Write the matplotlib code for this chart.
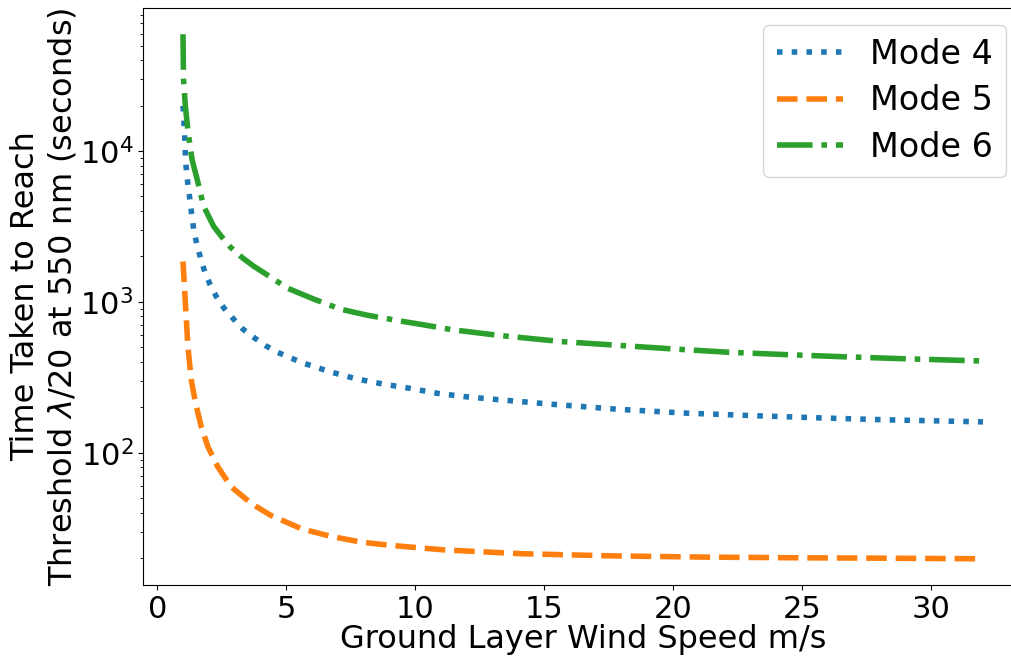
import matplotlib
matplotlib.use("Agg")
import matplotlib.pyplot as plt

# values
wind_mode4 = [1.0, 1.06, 1.1, 1.15, 1.22, 1.28, 1.35, 1.42, 1.54, 1.68, 1.84, 2.05, 2.29, 2.59,
              2.94, 3.32, 3.75, 4.19, 4.66, 5.14, 5.65, 6.17, 6.69, 7.73, 8.76, 9.79, 10.89,
              11.93, 13.04, 15.2, 17.83, 20.45, 23.08, 25.7, 28.33, 32.0]
time_mode4 = [19900, 13200, 8790, 6810, 5550, 4530, 3660, 2970, 2390, 1950, 1590, 1300, 1084, 908,
              775, 659, 580, 513, 463, 427, 393, 368, 344, 308, 285, 267, 247,
              235, 226, 210, 194, 183, 176, 170, 165, 160]

wind_mode5 = [1.0, 1.1, 1.19, 1.32, 1.49, 1.71, 1.97, 2.35, 2.87, 3.65, 4.39, 5.59, 6.72, 7.92,
              9.04, 11.08, 14.06, 17.6, 21.3, 25.0, 28.7, 32.0]
time_mode5 = [1850, 931, 505, 303, 212, 148, 109, 80.5, 59.3, 46, 38.5, 31.3, 27.9, 25.5,
              24.3, 22.7, 21.4, 20.7, 20.3, 20.1, 19.95, 19.8]

wind_mode6 = [1.0, 1.02, 1.09, 1.2, 1.35, 1.55, 1.8, 2.19, 2.5, 2.84, 3.3, 3.74, 4.13, 5.04, 6.07,
              7.11, 8.14, 9.3, 10.34, 11.38, 13.2, 15.67, 17.83, 20.0, 22.15, 24.32, 26.48,
              28.65, 30.95, 32.0]
time_mode6 = [59400, 29900, 19900, 13200, 8790, 6470, 4300, 3160, 2700, 2300, 1960, 1722, 1561,
              1233, 1042, 893, 815, 752, 703, 655, 600, 545, 515, 487, 463, 447, 433,
              421, 410, 405]

plt.rcParams['font.size'] = 22

fig = plt.figure(figsize=(10.12, 6.57), dpi=100)
ax = fig.add_axes([143 / 1012, 72 / 657, 880 / 1012, 577 / 657])

ax.plot(wind_mode4, time_mode4, linestyle=':', linewidth=4, color='#1f77b4', label='Mode 4')
ax.plot(wind_mode5, time_mode5, linestyle='--', linewidth=4, color='#ff7f0e', label='Mode 5')
ax.plot(wind_mode6, time_mode6, linestyle='-.', linewidth=4, color='#2ca02c', label='Mode 6')

ax.set_yscale('log')
ax.set_xticks([0, 5, 10, 15, 20, 25, 30])
ax.set_xlabel('Ground Layer Wind Speed m/s', fontsize=23, labelpad=0)
ax.set_ylabel('Time Taken to Reach\nThreshold $\\lambda$/20 at 550 nm (seconds)', fontsize=23,
              labelpad=1)
ax.legend(loc='upper right', fontsize=24, labelspacing=0.4)

fig.savefig('out.png', dpi=100)
